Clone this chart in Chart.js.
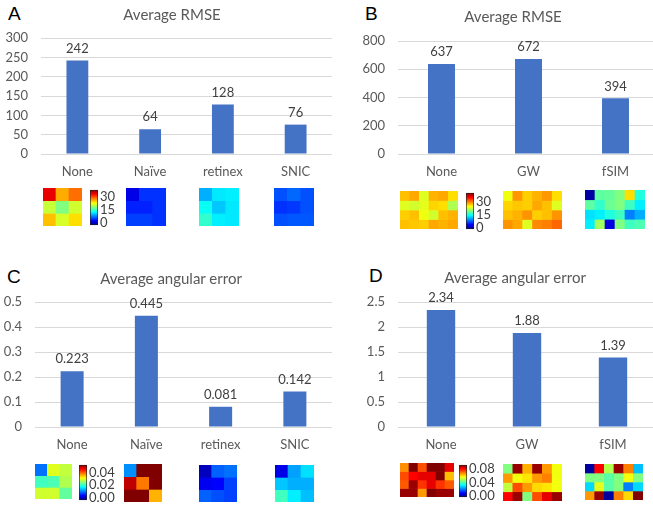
<!DOCTYPE html>
<html>
<head>
<meta charset="utf-8">
<script src="https://cdn.jsdelivr.net/npm/chart.js@4/dist/chart.umd.min.js"></script>
<style>
  html, body { margin: 0; padding: 0; background: #fff; overflow: hidden; }
  body { position: relative; width: 653px; height: 506px; }
  .box { position: absolute; }
  .box canvas { display: block; }
  .letter { position: absolute; font: 19px "Liberation Sans", Arial, sans-serif; line-height: 19px; color: #000; }
  .title { position: absolute; width: 240px; text-align: center; font: 15px Lato, sans-serif; line-height: 18px; color: #595959; z-index: 2; }
</style>
</head>
<body>
<div class="letter" style="left:8px;top:4px">A</div>
<div class="letter" style="left:365px;top:4px">B</div>
<div class="letter" style="left:7px;top:267px">C</div>
<div class="letter" style="left:369px;top:266px">D</div>
<div class="title" style="left:52px;top:5px">Average RMSE</div>
<div class="title" style="left:393px;top:7px">Average RMSE</div>
<div class="title" style="left:51px;top:269px">Average angular error</div>
<div class="title" style="left:395px;top:268px">Average angular error</div>
<script>
/* ================= DATA ================= */
const methodsA = ['None', 'Naïve', 'retinex', 'SNIC'];
const methodsB = ['None', 'GW', 'fSIM'];
const rmseA = [242, 64, 128, 76];
const rmseB = [637, 672, 394];
const angularC = [0.223, 0.445, 0.081, 0.142];
const angularD = [2.34, 1.88, 1.39];

const cbarTicksRmse = [0, 15, 30];
const cbarTicksC = [0, 0.02, 0.04];
const cbarTicksD = [0, 0.04, 0.08];

// heatmap cell values (rows top to bottom)
const heatNoneA = [[26.9, 21.2, 23], [17.1, 15, 17.4], [20.6, 17.6, 19.7]];
const heatNaiveA = [[3, 5.2, 5.2], [4.7, 4.7, 5.2], [5.6, 5.6, 5.2]];
const heatRetinexA = [[8.9, 10.6, 10.8], [11.5, 9.6, 10.6], [12.7, 10.8, 10.6]];
const heatSnicA = [[6.1, 6.8, 6.1], [5.2, 5.4, 6.1], [6.1, 6.3, 6.3]];

const heatNoneB = [
  [20.6, 21.3, 17.8, 21, 21.3, 19.7],
  [17.8, 17.4, 18, 20, 19.7, 16.4],
  [20.2, 20.6, 18.3, 17.4, 20.6, 21],
  [20.6, 20.4, 20.2, 21.3, 21, 21.3]];
const heatGwB = [
  [18.3, 21.8, 20.2, 21, 21.8, 19.7],
  [20, 20.4, 20.2, 21.3, 20.6, 17.8],
  [20.6, 21, 21.9, 20.2, 20.6, 21.9],
  [21.9, 21.3, 17.8, 22.2, 22.5, 23.2]];
const heatFsimB = [
  [1, 14, 14.2, 15, 19.7, 12.2],
  [14, 12.7, 14.4, 15, 13.1, 10.8],
  [10.4, 10.8, 12.2, 13.1, 7.5, 8.9],
  [10.8, 16, 2.8, 15, 13.1, 13.5]];

const heatNoneC = [[0.0094, 0.0238, 0.0226], [0.0175, 0.018, 0.0219], [0.0232, 0.0232, 0.0188]];
const heatNaiveC = [[0.0106, 0.04, 0.04], [0.0375, 0.0303, 0.04], [0.04, 0.04, 0.028]];
const heatRetinexC = [[0.0025, 0.0088, 0.0094], [0.0044, 0.005, 0.0075], [0.0088, 0.0081, 0.0075]];
const heatSnicC = [[0.004, 0.0113, 0.0138], [0.0128, 0.0119, 0.0119], [0.0175, 0.0144, 0.0125]];

const heatNoneD = [
  [0.0588, 0.08, 0.0638, 0.08, 0.08, 0.072],
  [0.064, 0.07, 0.072, 0.072, 0.08, 0.055],
  [0.063, 0.078, 0.066, 0.072, 0.066, 0.063],
  [0.078, 0.078, 0.058, 0.08, 0.078, 0.078]];
const heatGwD = [
  [0.04, 0.078, 0.056, 0.078, 0.058, 0.049],
  [0.058, 0.049, 0.052, 0.058, 0.06, 0.049],
  [0.045, 0.064, 0.058, 0.053, 0.052, 0.049],
  [0.07, 0.078, 0.04, 0.064, 0.072, 0.078]];
const heatFsimD = [
  [0.0024, 0.07, 0.044, 0.078, 0.06, 0.025],
  [0.04, 0.04, 0.037, 0.04, 0.049, 0.04],
  [0.027, 0.048, 0.037, 0.04, 0.02, 0.027],
  [0.058, 0.078, 0.0024, 0.06, 0.053, 0.08]];

/* ================= HELPERS ================= */
const FONT = 'Lato';
const BLUE = '#4472C4';

function jet(t) {
  t = Math.min(1, Math.max(0, t));
  const f = x => Math.round(255 * Math.min(1, Math.max(0, 1.5 - Math.abs(x))));
  return `rgb(${f(4 * t - 3)},${f(4 * t - 2)},${f(4 * t - 1)})`;
}

function makeCanvas(left, top, w, h) {
  const div = document.createElement('div');
  div.className = 'box';
  div.style.left = left + 'px';
  div.style.top = top + 'px';
  const cv = document.createElement('canvas');
  cv.width = w; cv.height = h;
  cv.style.width = w + 'px'; cv.style.height = h + 'px';
  div.appendChild(cv);
  document.body.appendChild(div);
  return cv;
}

const valueLabels = {
  id: 'valueLabels',
  afterDatasetsDraw(chart) {
    const { ctx } = chart;
    const ds = chart.data.datasets[0];
    ctx.save();
    ctx.font = `13px ${FONT}`;
    ctx.fillStyle = '#404040';
    ctx.textAlign = 'center';
    ctx.textBaseline = 'middle';
    chart.getDatasetMeta(0).data.forEach((bar, i) => {
      ctx.fillText(String(ds.data[i]), bar.x, bar.y - 12);
    });
    ctx.restore();
  }
};

/* g: canvas left/top/width/height, yw = y axis width, xh = x axis height, pt = space above plot */
function barPanel(g, labels, values, yMax, step) {
  const cv = makeCanvas(g.left, g.top, g.w, g.h);
  new Chart(cv, {
    type: 'bar',
    data: {
      labels,
      datasets: [{
        data: values,
        backgroundColor: BLUE,
        borderWidth: 0,
        barPercentage: g.bar,
        categoryPercentage: 1
      }]
    },
    options: {
      responsive: false,
      animation: false,
      layout: { padding: { left: 0, top: g.pt, bottom: 0, right: 0 } },
      plugins: {
        legend: { display: false },
        tooltip: { enabled: false }
      },
      scales: {
        x: {
          grid: { display: false, drawTicks: false },
          border: { display: false },
          ticks: { color: '#595959', font: { family: FONT, size: 13 }, padding: 10 },
          afterFit: s => { s.height = g.xh; }
        },
        y: {
          min: 0, max: yMax,
          grid: { color: '#d9d9d9', drawTicks: false },
          border: { display: false },
          ticks: {
            stepSize: step,
            color: '#595959',
            font: { family: FONT, size: 13 },
            padding: 13,
            callback: v => String(Math.round(v * 1000) / 1000)
          },
          afterFit: s => { s.width = g.yw; }
        }
      }
    },
    plugins: [valueLabels]
  });
}

function heatmap(left, top, w, h, grid, vmax) {
  const cv = makeCanvas(left, top, w, h);
  new Chart(cv, {
    type: 'bar',
    data: {
      labels: grid[0].map((_, c) => c),
      datasets: grid.map(row => ({
        data: row.map(() => 1),
        backgroundColor: row.map(v => jet(v / vmax)),
        borderWidth: 0,
        barPercentage: 1,
        categoryPercentage: 1
      }))
    },
    options: {
      responsive: false,
      animation: false,
      layout: { padding: 0 },
      plugins: { legend: { display: false }, tooltip: { enabled: false } },
      scales: {
        x: { display: false, stacked: true },
        y: { display: false, stacked: true, reverse: true, min: 0, max: grid.length }
      }
    }
  });
}

function colorbar(left, top, h, ticks, lo, hi, digits) {
  const pad = 8;
  const cv = makeCanvas(left, top - pad, 44, h + 2 * pad);
  new Chart(cv, {
    type: 'bar',
    data: {
      labels: [''],
      datasets: [{
        data: [[lo, hi]],
        backgroundColor: c => {
          const a = c.chart.chartArea;
          if (!a) return null;
          const grd = c.chart.ctx.createLinearGradient(0, a.bottom, 0, a.top);
          for (let i = 0; i <= 16; i++) grd.addColorStop(i / 16, jet(i / 16));
          return grd;
        },
        borderColor: '#222',
        borderWidth: 1,
        borderSkipped: false,
        barPercentage: 1,
        categoryPercentage: 1
      }]
    },
    options: {
      responsive: false,
      animation: false,
      layout: { padding: { top: pad, bottom: pad, left: 0, right: 0 } },
      plugins: { legend: { display: false }, tooltip: { enabled: false } },
      scales: {
        x: { display: false },
        y: {
          position: 'right',
          min: lo, max: hi,
          grid: { display: false, drawTicks: false },
          border: { display: false },
          afterBuildTicks: s => { s.ticks = ticks.map(v => ({ value: v })); },
          afterFit: s => { s.width = 44 - 8; },
          ticks: {
            autoSkip: false,
            padding: 2,
            color: '#404040',
            font: { family: FONT, size: 13 },
            callback: v => v.toFixed(digits)
          }
        }
      }
    }
  });
}

/* ================= PANELS ================= */
barPanel({ left: 0, top: 0, w: 332, h: 184, yw: 41, xh: 30, pt: 38, bar: 0.30 },
  methodsA, rmseA, 300, 50);
barPanel({ left: 335, top: 0, w: 324, h: 184, yw: 63, xh: 30, pt: 41, bar: 0.31 },
  methodsB, rmseB, 800, 200);
barPanel({ left: 0, top: 250, w: 332, h: 207, yw: 35, xh: 30, pt: 52, bar: 0.31 },
  methodsA, angularC, 0.5, 0.1);
barPanel({ left: 335, top: 250, w: 321, h: 207, yw: 63, xh: 30, pt: 52, bar: 0.33 },
  methodsB, angularD, 2.5, 0.5);

/* ================= HEATMAPS ================= */
heatmap(43, 188, 39, 38, heatNoneA, 30);
heatmap(126, 188, 40, 38, heatNaiveA, 30);
heatmap(199, 188, 40, 38, heatRetinexA, 30);
heatmap(274, 188, 40, 38, heatSnicA, 30);
colorbar(90, 188, 39, cbarTicksRmse, -3, 38.5, 0);

heatmap(400, 191, 58, 38, heatNoneB, 30);
heatmap(503, 191, 59, 38, heatGwB, 30);
heatmap(585, 190, 60, 39, heatFsimB, 30);
colorbar(466, 191, 40, cbarTicksRmse, -2.1, 40.7, 0);

heatmap(35, 464, 37, 35, heatNoneC, 0.04);
heatmap(124, 464, 38, 38, heatNaiveC, 0.04);
heatmap(199, 465, 38, 37, heatRetinexC, 0.04);
heatmap(275, 465, 39, 37, heatSnicC, 0.04);
colorbar(79, 463, 39, cbarTicksC, -0.0044, 0.0533, 2);

heatmap(400, 463, 54, 34, heatNoneD, 0.08);
heatmap(503, 464, 59, 37, heatGwD, 0.08);
heatmap(585, 464, 58, 36, heatFsimD, 0.08);
colorbar(459, 463, 36, cbarTicksD, -0.0027, 0.0933, 2);
</script>
</body>
</html>
